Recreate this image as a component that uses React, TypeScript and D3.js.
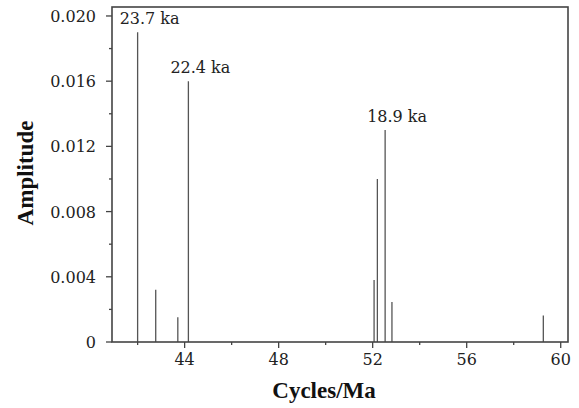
import React from "react";
import * as d3 from "d3";

const frequencies = [42.0, 42.77, 43.71, 44.16, 52.06, 52.2, 52.53, 52.82, 59.26];
const amplitudes = [0.019, 0.0032, 0.00152, 0.016, 0.0038, 0.01, 0.013, 0.00245, 0.00162];
const peakLabels = ["23.7 ka", "22.4 ka", "18.9 ka"];
const peakIndex = [0, 3, 6];
const xTicks = [44, 48, 52, 56, 60];
const xMinorTicks = [42, 46, 50, 54, 58];
const yTicks = [0, 0.004, 0.008, 0.012, 0.016, 0.02];
const yTickLabels = ["0", "0.004", "0.008", "0.012", "0.016", "0.020"];
const yMinorTicks = [0.002, 0.006, 0.01, 0.014, 0.018];

const W = 579;
const H = 408;
const L = 112, R = 568, T = 7, B = 342;

export default function App() {
  const x = d3.scaleLinear().domain([40.91, 60.31]).range([L, R]);
  const y = d3.scaleLinear().domain([0, 0.02055]).range([B, T]);
  const regular = "DejaVu Serif";
  const bold = "Liberation Serif, serif";
  const axisColor = "#444";
  return (
    <svg width={W} height={H} style={{ position: "absolute", left: 0, top: 0, background: "#fff" }}>
      {frequencies.map((f, i) => (
        <line key={"b" + i} x1={x(f)} x2={x(f)} y1={y(0)} y2={y(amplitudes[i])} stroke="#555" strokeWidth={1.3} />
      ))}
      <rect x={L} y={T} width={R - L} height={B - T} fill="none" stroke={axisColor} strokeWidth={1.6} />
      {xTicks.map((t) => (
        <g key={"xt" + t}>
          <line x1={x(t)} x2={x(t)} y1={B} y2={B + 6} stroke={axisColor} strokeWidth={1.3} />
          <text x={x(t)} y={365} textAnchor="middle" fontFamily={regular} fontSize={16} fill="#222">{t}</text>
        </g>
      ))}
      {xMinorTicks.map((t) => (
        <line key={"xm" + t} x1={x(t)} x2={x(t)} y1={B} y2={B + 3} stroke={axisColor} strokeWidth={1.3} />
      ))}
      {yTicks.map((t, i) => (
        <g key={"yt" + i}>
          <line x1={L - 6} x2={L} y1={y(t)} y2={y(t)} stroke={axisColor} strokeWidth={1.3} />
          <text x={96} y={y(t) + 6} textAnchor="end" fontFamily={regular} fontSize={16} fill="#222">{yTickLabels[i]}</text>
        </g>
      ))}
      {yMinorTicks.map((t, i) => (
        <line key={"ym" + i} x1={L - 3} x2={L} y1={y(t)} y2={y(t)} stroke={axisColor} strokeWidth={1.3} />
      ))}
      {peakIndex.map((pi, k) => (
        <text key={"pl" + k} x={x(frequencies[pi]) + 12} y={y(amplitudes[pi]) - 8} textAnchor="middle" fontFamily={regular} fontSize={16} fill="#222">
          {peakLabels[k]}
        </text>
      ))}
      <text x={324} y={398} textAnchor="middle" fontFamily={bold} fontSize={23} fontWeight="bold" fill="#111">Cycles/Ma</text>
      <text transform="translate(33,173) rotate(-90)" textAnchor="middle" fontFamily={bold} fontSize={23} fontWeight="bold" fill="#111">Amplitude</text>
    </svg>
  );
}
